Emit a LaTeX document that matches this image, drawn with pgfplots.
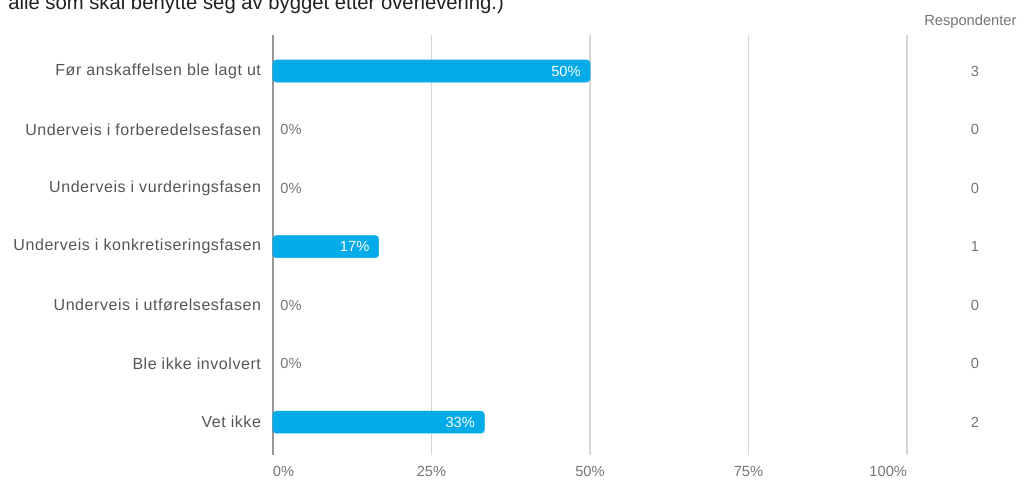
\documentclass[border=0pt]{standalone}
\usepackage{fontspec}
\setmainfont{Liberation Sans}
\newfontfamily\catfont[LetterSpace=3.5]{Liberation Sans}
\usepackage{pgfplots}
\pgfplotsset{compat=1.18}
\definecolor{barblue}{RGB}{3,171,232}
\definecolor{labgray}{RGB}{85,85,85}
\definecolor{tickgray}{RGB}{117,117,117}
\definecolor{gridgray}{RGB}{214,214,214}
\definecolor{zerogray}{RGB}{150,150,150}
\definecolor{titlecol}{RGB}{33,33,33}
\newcommand{\lbl}{\fontsize{11}{13}\selectfont}
\newcommand{\catlbl}{\catfont\fontsize{12}{14}\selectfont}
\begin{document}
\begin{tikzpicture}
\begin{axis}[
  at={(0pt,0pt)}, anchor=south west,
  scale only axis, width=475.5pt, height=315pt,
  xmin=0, xmax=100, ymin=-0.615, ymax=6.56, y dir=reverse,
  axis line style={draw=none},
  major tick length=0pt,
  xmajorgrids, grid style={gridgray, line width=0.8pt},
  xtick={0,25,50,75,100},
  xticklabels={\makebox[0pt][l]{0\%},25\%,50\%,75\%,\makebox[0pt][r]{100\%}},
  extra x ticks={0}, extra x tick labels={},
  extra x tick style={grid style={zerogray, line width=0.9pt}},
  xticklabel style={text=tickgray, font=\lbl, yshift=-5pt},
  ytick={0,...,6},
  yticklabels={F{\o}r anskaffelsen ble lagt ut, Underveis i forberedelsesfasen, Underveis i vurderingsfasen, Underveis i konkretiseringsfasen, Underveis i utf{\o}relsesfasen, Ble ikke involvert, Vet ikke},
  yticklabel style={text=labgray, font=\catlbl, xshift=-5.5pt},
  clip=false,
]
\addplot[xbar, fill=barblue, draw=barblue, bar width=16.5pt, rounded corners=2.5pt,
  nodes near coords, point meta=explicit symbolic,
  every node near coord/.style={anchor=east, text=white, font=\lbl, xshift=-3.5pt}]
  coordinates {(50,0)[50\%] (16.67,3)[17\%] (33.33,6)[33\%]};
\addplot[draw=none, mark=none,
  nodes near coords, point meta=explicit symbolic,
  every node near coord/.style={anchor=west, text=tickgray, font=\lbl, xshift=2pt}]
  coordinates {(0,1)[0\%] (0,2)[0\%] (0,4)[0\%] (0,5)[0\%]};
\addplot[draw=none, mark=none,
  nodes near coords, point meta=explicit symbolic,
  every node near coord/.style={anchor=center, text=tickgray, font=\lbl}]
  coordinates {(110.7,0)[3] (110.7,1)[0] (110.7,2)[0] (110.7,3)[1] (110.7,4)[0] (110.7,5)[0] (110.7,6)[2]};
\node[text=tickgray, font=\fontsize{11}{13}\selectfont] at (axis cs:110.0,-0.84) {Respondenter};
\end{axis}
\begin{scope}
\clip (-204.75pt,-18.75pt) rectangle (565.5pt,341.25pt);
\node[anchor=base west, inner sep=0pt, text=titlecol, font=\fontsize{15.2}{17}\selectfont] at (-198.75pt,334.5pt) {alle som skal benytte seg av bygget etter overlevering.)};
\end{scope}
\pgfresetboundingbox
\path (-204.75pt,-18.75pt) rectangle (565.5pt,341.25pt);
\end{tikzpicture}
\end{document}
